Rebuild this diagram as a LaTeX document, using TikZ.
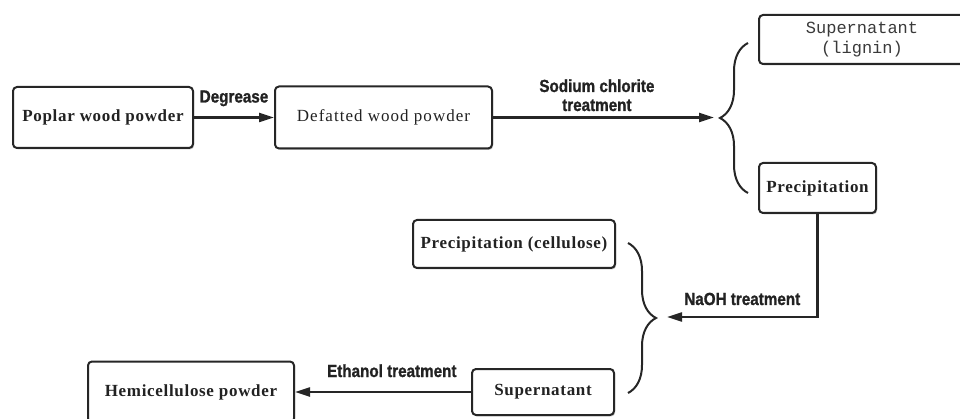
\documentclass[tikz,border=0pt]{standalone}
\usepackage{fontspec}
\setmainfont{Liberation Serif}
\newfontfamily\labfont{Liberation Sans}[FakeStretch=0.87,FakeBold=1.2]
\newfontfamily\monofont{Liberation Mono}
\usetikzlibrary{arrows.meta,decorations.pathreplacing,shadows}
\definecolor{inkline}{HTML}{262626}
\definecolor{inktext}{HTML}{222222}
\definecolor{monotext}{HTML}{3A3A3A}

\begin{document}
\begin{tikzpicture}[
  x=1pt, y=-1pt,
  >={Triangle[length=15pt,width=9pt]},
  box/.style={rounded corners=4pt, draw=inkline, line width=2pt, fill=white,
              align=center, inner sep=2pt, text=inktext,
              drop shadow={shadow xshift=1.2pt, shadow yshift=-1.4pt, fill=black!45},
              font=\fontsize{17}{20}\selectfont\bfseries\addfontfeature{LetterSpace=4}},
  lightbox/.style={box, font=\fontsize{17}{20}\selectfont\mdseries\addfontfeature{LetterSpace=6}},
  mbox/.style={box, text=monotext, font=\fontsize{17}{20}\selectfont\monofont},
  elab/.style={font=\fontsize{17.5}{19}\selectfont\labfont\bfseries, text=inktext,
               inner sep=0pt, align=center},
  arr/.style={->, draw=inkline, line width=2.2pt},
  brc/.style={decorate, decoration={brace, amplitude=28pt, aspect=0.5},
              draw=inkline, line width=2pt},
]
\useasboundingbox (0,0) rectangle (960,419);

% ---- top row ----
\node[box, minimum width=180pt, minimum height=61pt]      (poplar) at (103,117.5)  {Poplar wood powder};
\node[lightbox, minimum width=217pt, minimum height=62pt] (defat)  at (383.5,117.5){Defatted wood powder};
\node[mbox, minimum width=206pt, minimum height=49pt]     (lignin) at (862,39.5)   {Supernatant\\(lignin)};
\node[box, minimum width=117pt, minimum height=50pt]      (precip) at (817.5,188)  {Precipitation};

% ---- bottom rows ----
\node[box, minimum width=202pt, minimum height=48pt] (cellu) at (514,244)   {Precipitation (cellulose)};
\node[box, minimum width=142pt, minimum height=46pt] (super) at (543,392)   {Supernatant};
\node[box, minimum width=206pt, minimum height=61pt] (hemi)  at (191,392)   {Hemicellulose powder};

% ---- brace ends ----
\coordinate (b1in)  at (714,117.5);
\coordinate (b1top) at (748,43);
\coordinate (b1bot) at (748,193);
\coordinate (b2in)  at (667,317);
\coordinate (b2top) at (628,243);
\coordinate (b2bot) at (628,393);

% ---- braces ----
\draw[brc] (b1bot) -- (b1top);
\draw[brc] (b2top) -- (b2bot);

% ---- arrows ----
\draw[arr] (poplar) -- (defat) node[elab, midway, anchor=base, yshift=15pt] (lbdeg) {Degrease};
\draw[arr] (defat) -- (b1in) node[elab, pos=0.47, anchor=base, yshift=6.5pt] (lbsod) {Sodium chlorite\\treatment};
\draw[arr] (precip.south) |- (b2in) node[elab, pos=0.75, anchor=base, yshift=12pt] (lbnaoh) {NaOH treatment};
\draw[arr] (super) -- (hemi) node[elab, pos=0.45, anchor=base, yshift=15pt] (lbeth) {Ethanol treatment};

\end{tikzpicture}
\end{document}
